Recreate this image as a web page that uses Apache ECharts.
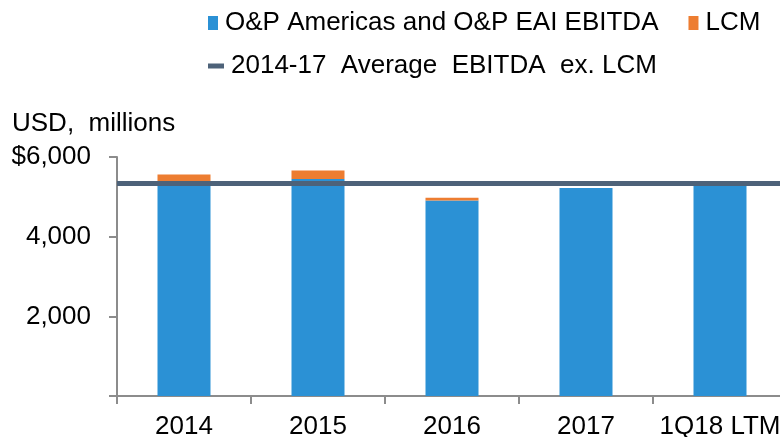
<!DOCTYPE html>
<html>
<head>
<meta charset="utf-8">
<script src="https://cdn.jsdelivr.net/npm/echarts@6/dist/echarts.min.js"></script>
<style>
html,body{margin:0;padding:0;background:#fff;}
#c{width:780px;height:437px;}
</style>
</head>
<body>
<div id="c"></div>
<script>
var categories = ['2014', '2015', '2016', '2017', '1Q18 LTM'];
var opEbitda = [5330, 5450, 4910, 5220, 5280];
var lcm = [230, 210, 65, null, null];
var avgExLcm = 5330;
var yTicks = [0, 2000, 4000, 6000];

var FONT = '"Liberation Sans", Arial, sans-serif';
var chart = echarts.init(document.getElementById('c'), null, {renderer: 'canvas'});
chart.setOption({
  animation: false,
  backgroundColor: '#ffffff',
  textStyle: {fontFamily: FONT},
  title: {
    text: 'USD,  millions',
    left: 7, top: 106,
    textStyle: {fontFamily: FONT, fontSize: 26, fontWeight: 'normal', color: '#000'}
  },
  legend: [{
    data: ['O&P Americas and O&P EAI EBITDA', 'LCM'],
    left: 203, top: 5,
    itemWidth: 10, itemHeight: 14, itemGap: 30,
    icon: 'rect',
    textStyle: {fontFamily: FONT, fontSize: 26, color: '#000', padding: [0, 0, 0, 2]}
  }, {
    data: ['2014-17  Average  EBITDA  ex. LCM'],
    left: 203, top: 48,
    itemWidth: 16, itemHeight: 5,
    icon: 'rect',
    textStyle: {fontFamily: FONT, fontSize: 26, color: '#000', padding: [0, 0, 0, 2]}
  }],
  grid: {left: 117, right: -7, top: 157, bottom: 41, containLabel: false, outerBoundsMode: 'none'},
  xAxis: {
    type: 'category',
    data: categories,
    axisLine: {lineStyle: {color: '#8c8c8c', width: 2}},
    axisTick: {show: true, interval: 0, length: 8, lineStyle: {color: '#8c8c8c', width: 2}},
    axisLabel: {interval: 0, hideOverlap: false, fontFamily: FONT, fontSize: 26, color: '#000', margin: 18}
  },
  yAxis: {
    type: 'value',
    min: 0, max: 6000, interval: 2000,
    splitLine: {show: false},
    axisLine: {show: true, lineStyle: {color: '#8c8c8c', width: 2}},
    axisTick: {show: true, length: 8, lineStyle: {color: '#8c8c8c', width: 2}},
    axisLabel: {
      fontFamily: FONT, fontSize: 26, color: '#000', margin: 26,
      formatter: function (v) {
        if (v === 0) return '';
        var s = v.toLocaleString('en-US');
        return v === yTicks[yTicks.length - 1] ? '$' + s : s;
      }
    }
  },
  series: [{
    name: 'O&P Americas and O&P EAI EBITDA',
    type: 'bar', stack: 'a', barWidth: 53,
    itemStyle: {color: '#2b91d5'},
    data: opEbitda
  }, {
    name: 'LCM',
    type: 'bar', stack: 'a', barWidth: 53,
    itemStyle: {color: '#ed7d31'},
    data: lcm
  }, {
    name: '2014-17  Average  EBITDA  ex. LCM',
    type: 'line',
    data: [],
    itemStyle: {color: '#4d6279'},
    lineStyle: {color: '#4d6279', width: 5},
    markLine: {
      silent: true,
      symbol: ['none', 'none'],
      label: {show: false},
      lineStyle: {color: '#4d6279', width: 5, type: 'solid'},
      data: [{yAxis: avgExLcm}]
    }
  }]
});
</script>
</body>
</html>
